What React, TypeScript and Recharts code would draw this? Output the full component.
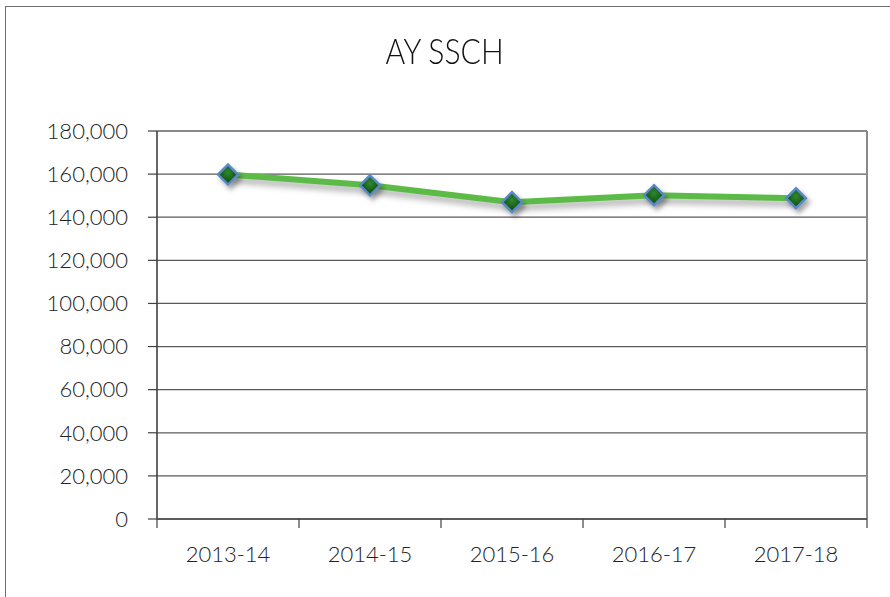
import React from 'react';
import { LineChart, Line, XAxis, YAxis, CartesianGrid, ReferenceLine } from 'recharts';

const years = ['2013-14', '2014-15', '2015-16', '2016-17', '2017-18'];
const ssch = [159800, 154800, 147000, 150200, 148800];
const yTicks = [0, 20000, 40000, 60000, 80000, 100000, 120000, 140000, 160000, 180000];
const bandTicks = [0, 1, 2, 3, 4, 5];
const labelTicks = [0.5, 1.5, 2.5, 3.5, 4.5];

const data = years.map((year, i) => ({ year, x: i + 0.5, value: ssch[i] }));

const FONT = "Lato, 'Open Sans', sans-serif";

const Diamond = (props: any) => {
  const { cx, cy } = props;
  if (cx == null || cy == null) return null;
  const r = 10;
  const pts = `${cx},${cy - r} ${cx + r},${cy} ${cx},${cy + r} ${cx - r},${cy}`;
  return (
    <g filter="url(#mkShadow)">
      <polygon points={pts} fill="url(#mkFill)" stroke="#5a8ac6" strokeWidth={2.5} strokeLinejoin="miter" />
    </g>
  );
};

const NoLabel = () => <g />;

const fmt = (v: number) => v.toLocaleString('en-US');
const yearFmt = (v: number) => years[Math.floor(v)] ?? '';

export default function App() {
  return (
    <div style={{ position: 'absolute', left: 0, top: 0, width: 890, height: 597, background: '#fff', overflow: 'hidden' }}>
      <style>{`.recharts-line-curve { filter: drop-shadow(2px 5px 3px rgba(0,0,0,0.32)); }`}</style>
      <svg width={0} height={0} style={{ position: 'absolute' }}>
        <defs>
          <radialGradient id="mkFill" cx="50%" cy="40%" r="60%">
            <stop offset="0%" stopColor="#2f8a2f" />
            <stop offset="100%" stopColor="#0b3f0b" />
          </radialGradient>
          <filter id="mkShadow" x="-50%" y="-50%" width="220%" height="220%">
            <feDropShadow dx="3" dy="4" stdDeviation="2.5" floodColor="#000" floodOpacity="0.35" />
          </filter>
        </defs>
      </svg>
      <div style={{ position: 'absolute', left: 5, top: 6, width: 920, height: 620, border: '1px solid #707070', boxSizing: 'border-box' }} />
      <div style={{ position: 'absolute', left: 0, top: 28, width: 890, textAlign: 'center', fontFamily: FONT, fontWeight: 300, fontSize: 35, color: '#111', lineHeight: '44px' }}>
        <span style={{ display: 'inline-block', transform: 'scaleX(0.86)' }}>AY SSCH</span>
      </div>
      <div style={{ position: 'absolute', left: 0, top: 0 }}>
        <LineChart width={890} height={597} data={data} margin={{ top: 131, right: 23, left: 0, bottom: 37 }}>
          <CartesianGrid vertical={false} stroke="#5a5a5a" strokeWidth={1.2} />
          <YAxis
            type="number"
            domain={[0, 180000]}
            ticks={yTicks}
            tickFormatter={fmt}
            width={157}
            tickSize={9}
            tickMargin={20}
            axisLine={{ stroke: '#404040', strokeWidth: 1.6 }}
            tickLine={{ stroke: '#404040', strokeWidth: 1.2 }}
            tick={{ fontFamily: FONT, fontWeight: 300, fontSize: 22, fill: '#222' }}
            interval={0}
          />
          <XAxis
            xAxisId="a"
            type="number"
            dataKey="x"
            domain={[0, 5]}
            ticks={bandTicks}
            tick={<NoLabel />}
            tickSize={9}
            height={1}
            axisLine={{ stroke: '#404040', strokeWidth: 1.6 }}
            tickLine={{ stroke: '#404040', strokeWidth: 1.2 }}
            interval={0}
          />
          <XAxis
            xAxisId="b"
            type="number"
            dataKey="x"
            domain={[0, 5]}
            ticks={labelTicks}
            tickFormatter={yearFmt}
            axisLine={false}
            tickLine={false}
            tickSize={0}
            tickMargin={26}
            height={40}
            interval={0}
            tick={{ fontFamily: FONT, fontWeight: 300, fontSize: 22, fill: '#222' }}
          />
          <ReferenceLine xAxisId="a" x={5} stroke="#8a8a8a" strokeWidth={2} />
          <ReferenceLine xAxisId="a" y={180000} stroke="#8a8a8a" strokeWidth={2} />
          <Line
            xAxisId="a"
            type="linear"
            dataKey="value"
            stroke="#5cbb46"
            strokeWidth={6}
            dot={<Diamond />}
            activeDot={false}
            isAnimationActive={false}
          />
        </LineChart>
      </div>
    </div>
  );
}
